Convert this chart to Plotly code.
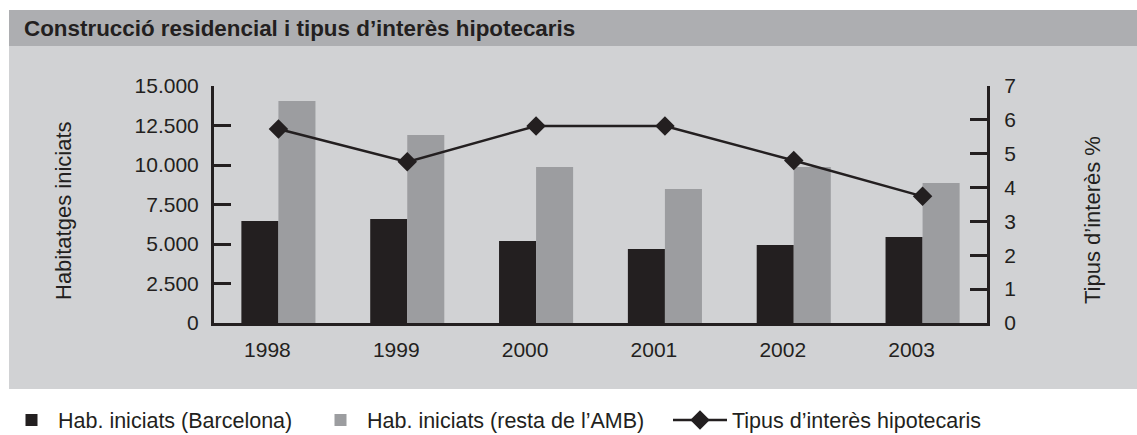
import plotly.graph_objects as go

years = ["1998", "1999", "2000", "2001", "2002", "2003"]
barcelona = [6450, 6580, 5190, 4680, 4940, 5440]
resta_amb = [14050, 11900, 9870, 8480, 9870, 8860]
tipus = [5.73, 4.76, 5.82, 5.82, 4.80, 3.74]

left_ticks = [0, 2500, 5000, 7500, 10000, 12500, 15000]
left_labels = ["0", "2.500", "5.000", "7.500", "10.000", "12.500", "15.000"]
right_ticks = [0, 1, 2, 3, 4, 5, 6, 7]

title_text = "Construcció residencial i tipus d’interès hipotecaris"
name_bcn = "Hab. iniciats (Barcelona)"
name_amb = "Hab. iniciats (resta de l’AMB)"
name_tip = "Tipus d’interès hipotecaris"
ytitle_left = "Habitatges iniciats"
ytitle_right = "Tipus d’interès %"

DARK = "#231f20"
GREY_BAR = "#9c9da0"
PANEL = "#d1d2d4"
BAND = "#adaeb1"
FONT = "Liberation Sans, Arial, Helvetica, sans-serif"

W, H = 1137, 435
L, R, T, B = 214, 150, 86, 112
pw = W - L - R
ph = H - T - B


def px_x(x):
    return (x - L) / pw


def px_y(y):
    return (H - B - y) / ph


fig = go.Figure()
fig.add_trace(go.Bar(x=years, y=barcelona, name=name_bcn, marker=dict(color=DARK, line=dict(width=0)),
                     legend="legend"))
fig.add_trace(go.Bar(x=years, y=resta_amb, name=name_amb, marker=dict(color=GREY_BAR, line=dict(width=0)),
                     legend="legend2"))
fig.add_trace(go.Scatter(x=years, y=tipus, name=name_tip, yaxis="y2", mode="lines+markers",
                         line=dict(color=DARK, width=2.5),
                         marker=dict(symbol="diamond", size=15, color=DARK),
                         legend="legend3"))

axis_common = dict(showgrid=False, zeroline=False, showline=True, linewidth=3, linecolor=DARK,
                   tickfont=dict(family=FONT, size=21, color=DARK))

leg_common = dict(orientation="h", xref="container", yref="container", xanchor="left",
                  yanchor="middle", y=1 - 420 / H, bgcolor="rgba(0,0,0,0)",
                  font=dict(family=FONT, size=21.5, color=DARK), traceorder="normal")

fig.update_layout(
    width=W, height=H, autosize=False,
    margin=dict(l=L, r=R, t=T, b=B, pad=0),
    paper_bgcolor="white", plot_bgcolor="rgba(0,0,0,0)",
    barmode="group", bargap=0.425, bargroupgap=0,
    font=dict(family=FONT, size=21, color=DARK),
    title=dict(text="<b>" + title_text + "</b>", x=24 / W, xanchor="left", xref="container",
               y=1 - 28.5 / H, yanchor="middle", yref="container",
               font=dict(family=FONT, size=22.4, color=DARK)),
    xaxis=dict(type="category", categoryorder="array", categoryarray=years, range=[-0.5, 5.5],
               ticks="", ticklabelshift=-11, ticklabelstandoff=6, **axis_common),
    yaxis=dict(range=[0, 15000], tickvals=left_ticks, ticktext=left_labels, ticks="inside",
               ticklen=17, tickwidth=3, tickcolor=DARK, ticklabelstandoff=8, **axis_common),
    yaxis2=dict(range=[0, 7], tickvals=right_ticks, overlaying="y", side="right", ticks="inside",
                ticklen=17, tickwidth=3, tickcolor=DARK, ticklabelstandoff=10, anchor="x",
                **axis_common),
    showlegend=True,
    legend=dict(x=5 / W, itemwidth=43, **leg_common),
    legend2=dict(x=314 / W, itemwidth=43, **leg_common),
    legend3=dict(x=668 / W, itemwidth=54, **leg_common),
    shapes=[
        dict(type="rect", xref="paper", yref="paper", layer="below",
             x0=px_x(9), x1=px_x(W + 5), y0=px_y(389), y1=px_y(46),
             fillcolor=PANEL, line=dict(width=0)),
        dict(type="rect", xref="paper", yref="paper", layer="below",
             x0=px_x(9), x1=px_x(W + 5), y0=px_y(46), y1=px_y(10),
             fillcolor=BAND, line=dict(width=0)),
    ],
    annotations=[
        dict(text=ytitle_left, textangle=-90, xref="paper", yref="paper",
             x=px_x(63), y=px_y(211), xanchor="center", yanchor="middle", showarrow=False,
             font=dict(family=FONT, size=22, color=DARK)),
        dict(text=ytitle_right, textangle=-90, xref="paper", yref="paper",
             x=px_x(1092), y=px_y(220), xanchor="center", yanchor="middle", showarrow=False,
             font=dict(family=FONT, size=22, color=DARK)),
    ],
)

fig.write_html("out.html", config={"displayModeBar": False},
               post_script="document.body.style.margin='0';document.body.style.overflow='hidden';")
